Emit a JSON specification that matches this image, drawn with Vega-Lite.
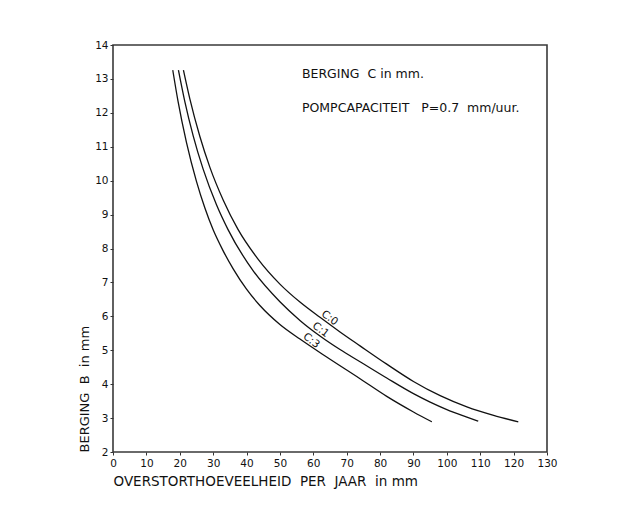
{
  "$schema": "https://vega.github.io/schema/vega-lite/v6.json",
  "width": 434,
  "height": 407,
  "autosize": {"type": "none"},
  "padding": {"left": 113, "top": 45, "right": 83, "bottom": 66},
  "background": "white",
  "config": {
    "view": {"stroke": "#3a3a3a", "strokeWidth": 1.6},
    "font": "DejaVu Sans",
    "axis": {
      "titleFontWeight": "normal",
      "titleColor": "#111111",
      "labelFontSize": 10.5,
      "labelColor": "#111111",
      "labelFlush": false,
      "labelOverlap": false,
      "tickSize": 3,
      "tickColor": "#333333",
      "domain": false,
      "grid": false
    }
  },
  "datasets": {
    "curves": [
      {"C": "0", "overstort": 21.1, "berging": 13.26},
      {"C": "0", "overstort": 23.0, "berging": 12.42},
      {"C": "0", "overstort": 26.0, "berging": 11.31},
      {"C": "0", "overstort": 29.0, "berging": 10.40},
      {"C": "0", "overstort": 33.0, "berging": 9.43},
      {"C": "0", "overstort": 37.4, "berging": 8.57},
      {"C": "0", "overstort": 43.5, "berging": 7.68},
      {"C": "0", "overstort": 50.0, "berging": 6.95},
      {"C": "0", "overstort": 56.0, "berging": 6.42},
      {"C": "0", "overstort": 62.0, "berging": 5.97},
      {"C": "0", "overstort": 68.0, "berging": 5.54},
      {"C": "0", "overstort": 74.0, "berging": 5.13},
      {"C": "0", "overstort": 82.0, "berging": 4.59},
      {"C": "0", "overstort": 90.0, "berging": 4.08},
      {"C": "0", "overstort": 98.0, "berging": 3.66},
      {"C": "0", "overstort": 106.0, "berging": 3.33},
      {"C": "0", "overstort": 114.0, "berging": 3.08},
      {"C": "0", "overstort": 121.4, "berging": 2.89},
      {"C": "1", "overstort": 19.6, "berging": 13.26},
      {"C": "1", "overstort": 21.5, "berging": 12.34},
      {"C": "1", "overstort": 24.0, "berging": 11.33},
      {"C": "1", "overstort": 27.0, "berging": 10.34},
      {"C": "1", "overstort": 31.0, "berging": 9.29},
      {"C": "1", "overstort": 34.5, "berging": 8.55},
      {"C": "1", "overstort": 42.0, "berging": 7.34},
      {"C": "1", "overstort": 50.0, "berging": 6.43},
      {"C": "1", "overstort": 56.0, "berging": 5.88},
      {"C": "1", "overstort": 62.0, "berging": 5.42},
      {"C": "1", "overstort": 68.0, "berging": 5.02},
      {"C": "1", "overstort": 74.0, "berging": 4.66},
      {"C": "1", "overstort": 82.0, "berging": 4.18},
      {"C": "1", "overstort": 90.0, "berging": 3.72},
      {"C": "1", "overstort": 95.0, "berging": 3.47},
      {"C": "1", "overstort": 100.0, "berging": 3.25},
      {"C": "1", "overstort": 106.0, "berging": 3.03},
      {"C": "1", "overstort": 109.4, "berging": 2.91},
      {"C": "3", "overstort": 17.9, "berging": 13.26},
      {"C": "3", "overstort": 19.5, "berging": 12.33},
      {"C": "3", "overstort": 22.0, "berging": 11.13},
      {"C": "3", "overstort": 25.0, "berging": 9.98},
      {"C": "3", "overstort": 27.5, "berging": 9.20},
      {"C": "3", "overstort": 30.0, "berging": 8.55},
      {"C": "3", "overstort": 33.0, "berging": 7.93},
      {"C": "3", "overstort": 36.0, "berging": 7.40},
      {"C": "3", "overstort": 40.0, "berging": 6.80},
      {"C": "3", "overstort": 44.0, "berging": 6.32},
      {"C": "3", "overstort": 50.0, "berging": 5.76},
      {"C": "3", "overstort": 56.0, "berging": 5.33},
      {"C": "3", "overstort": 64.0, "berging": 4.80},
      {"C": "3", "overstort": 74.0, "berging": 4.16},
      {"C": "3", "overstort": 82.0, "berging": 3.64},
      {"C": "3", "overstort": 90.0, "berging": 3.18},
      {"C": "3", "overstort": 95.5, "berging": 2.89}
    ],
    "labels": [
      {"label": "C:0", "overstort": 64.9, "berging": 5.95},
      {"label": "C:1", "overstort": 62.2, "berging": 5.6},
      {"label": "C:3", "overstort": 59.4, "berging": 5.28}
    ],
    "notes": [
      {"note": "BERGING\u00a0\u00a0C in mm.", "overstort": 56.6, "berging": 13.14},
      {"note": "POMPCAPACITEIT\u00a0\u00a0\u00a0P=0.7\u00a0\u00a0mm/uur.", "overstort": 56.6, "berging": 12.15}
    ]
  },
  "layer": [
    {
      "data": {"name": "curves"},
      "mark": {"type": "line", "color": "#111111", "strokeWidth": 1.3, "interpolate": "monotone"},
      "encoding": {
        "x": {
          "field": "overstort",
          "type": "quantitative",
          "scale": {"domain": [0, 130], "nice": false, "zero": false},
          "axis": {
            "title": "OVERSTORTHOEVEELHEID\u00a0\u00a0PER\u00a0\u00a0JAAR\u00a0\u00a0in\u00a0mm",
            "titleAnchor": "start",
            "titleFontSize": 13.5,
            "titlePadding": 6,
            "labelPadding": 3,
            "values": [0, 10, 20, 30, 40, 50, 60, 70, 80, 90, 100, 110, 120, 130]
          }
        },
        "y": {
          "field": "berging",
          "type": "quantitative",
          "scale": {"domain": [2, 14], "nice": false, "zero": false},
          "axis": {
            "title": "BERGING\u00a0\u00a0B\u00a0\u00a0in\u00a0mm",
            "titleAnchor": "start",
            "titleFontSize": 13,
            "titlePadding": 3,
            "labelPadding": 2,
            "values": [2, 3, 4, 5, 6, 7, 8, 9, 10, 11, 12, 13, 14]
          }
        },
        "detail": {"field": "C", "type": "nominal"}
      }
    },
    {
      "data": {"name": "labels"},
      "mark": {"type": "text", "angle": 37, "fontSize": 10.5, "fill": "#111111", "align": "center", "baseline": "middle"},
      "encoding": {
        "x": {
          "field": "overstort",
          "type": "quantitative",
          "axis": {
            "title": "OVERSTORTHOEVEELHEID\u00a0\u00a0PER\u00a0\u00a0JAAR\u00a0\u00a0in\u00a0mm",
            "titleAnchor": "start",
            "titleFontSize": 13.5,
            "titlePadding": 6,
            "labelPadding": 3,
            "values": [0, 10, 20, 30, 40, 50, 60, 70, 80, 90, 100, 110, 120, 130]
          }
        },
        "y": {
          "field": "berging",
          "type": "quantitative",
          "axis": {
            "title": "BERGING\u00a0\u00a0B\u00a0\u00a0in\u00a0mm",
            "titleAnchor": "start",
            "titleFontSize": 13,
            "titlePadding": 3,
            "labelPadding": 2,
            "values": [2, 3, 4, 5, 6, 7, 8, 9, 10, 11, 12, 13, 14]
          }
        },
        "text": {"field": "label"}
      }
    },
    {
      "data": {"name": "notes"},
      "mark": {"type": "text", "fontSize": 12.5, "fill": "#111111", "align": "left", "baseline": "middle"},
      "encoding": {
        "x": {
          "field": "overstort",
          "type": "quantitative",
          "axis": {
            "title": "OVERSTORTHOEVEELHEID\u00a0\u00a0PER\u00a0\u00a0JAAR\u00a0\u00a0in\u00a0mm",
            "titleAnchor": "start",
            "titleFontSize": 13.5,
            "titlePadding": 6,
            "labelPadding": 3,
            "values": [0, 10, 20, 30, 40, 50, 60, 70, 80, 90, 100, 110, 120, 130]
          }
        },
        "y": {
          "field": "berging",
          "type": "quantitative",
          "axis": {
            "title": "BERGING\u00a0\u00a0B\u00a0\u00a0in\u00a0mm",
            "titleAnchor": "start",
            "titleFontSize": 13,
            "titlePadding": 3,
            "labelPadding": 2,
            "values": [2, 3, 4, 5, 6, 7, 8, 9, 10, 11, 12, 13, 14]
          }
        },
        "text": {"field": "note"}
      }
    }
  ]
}
